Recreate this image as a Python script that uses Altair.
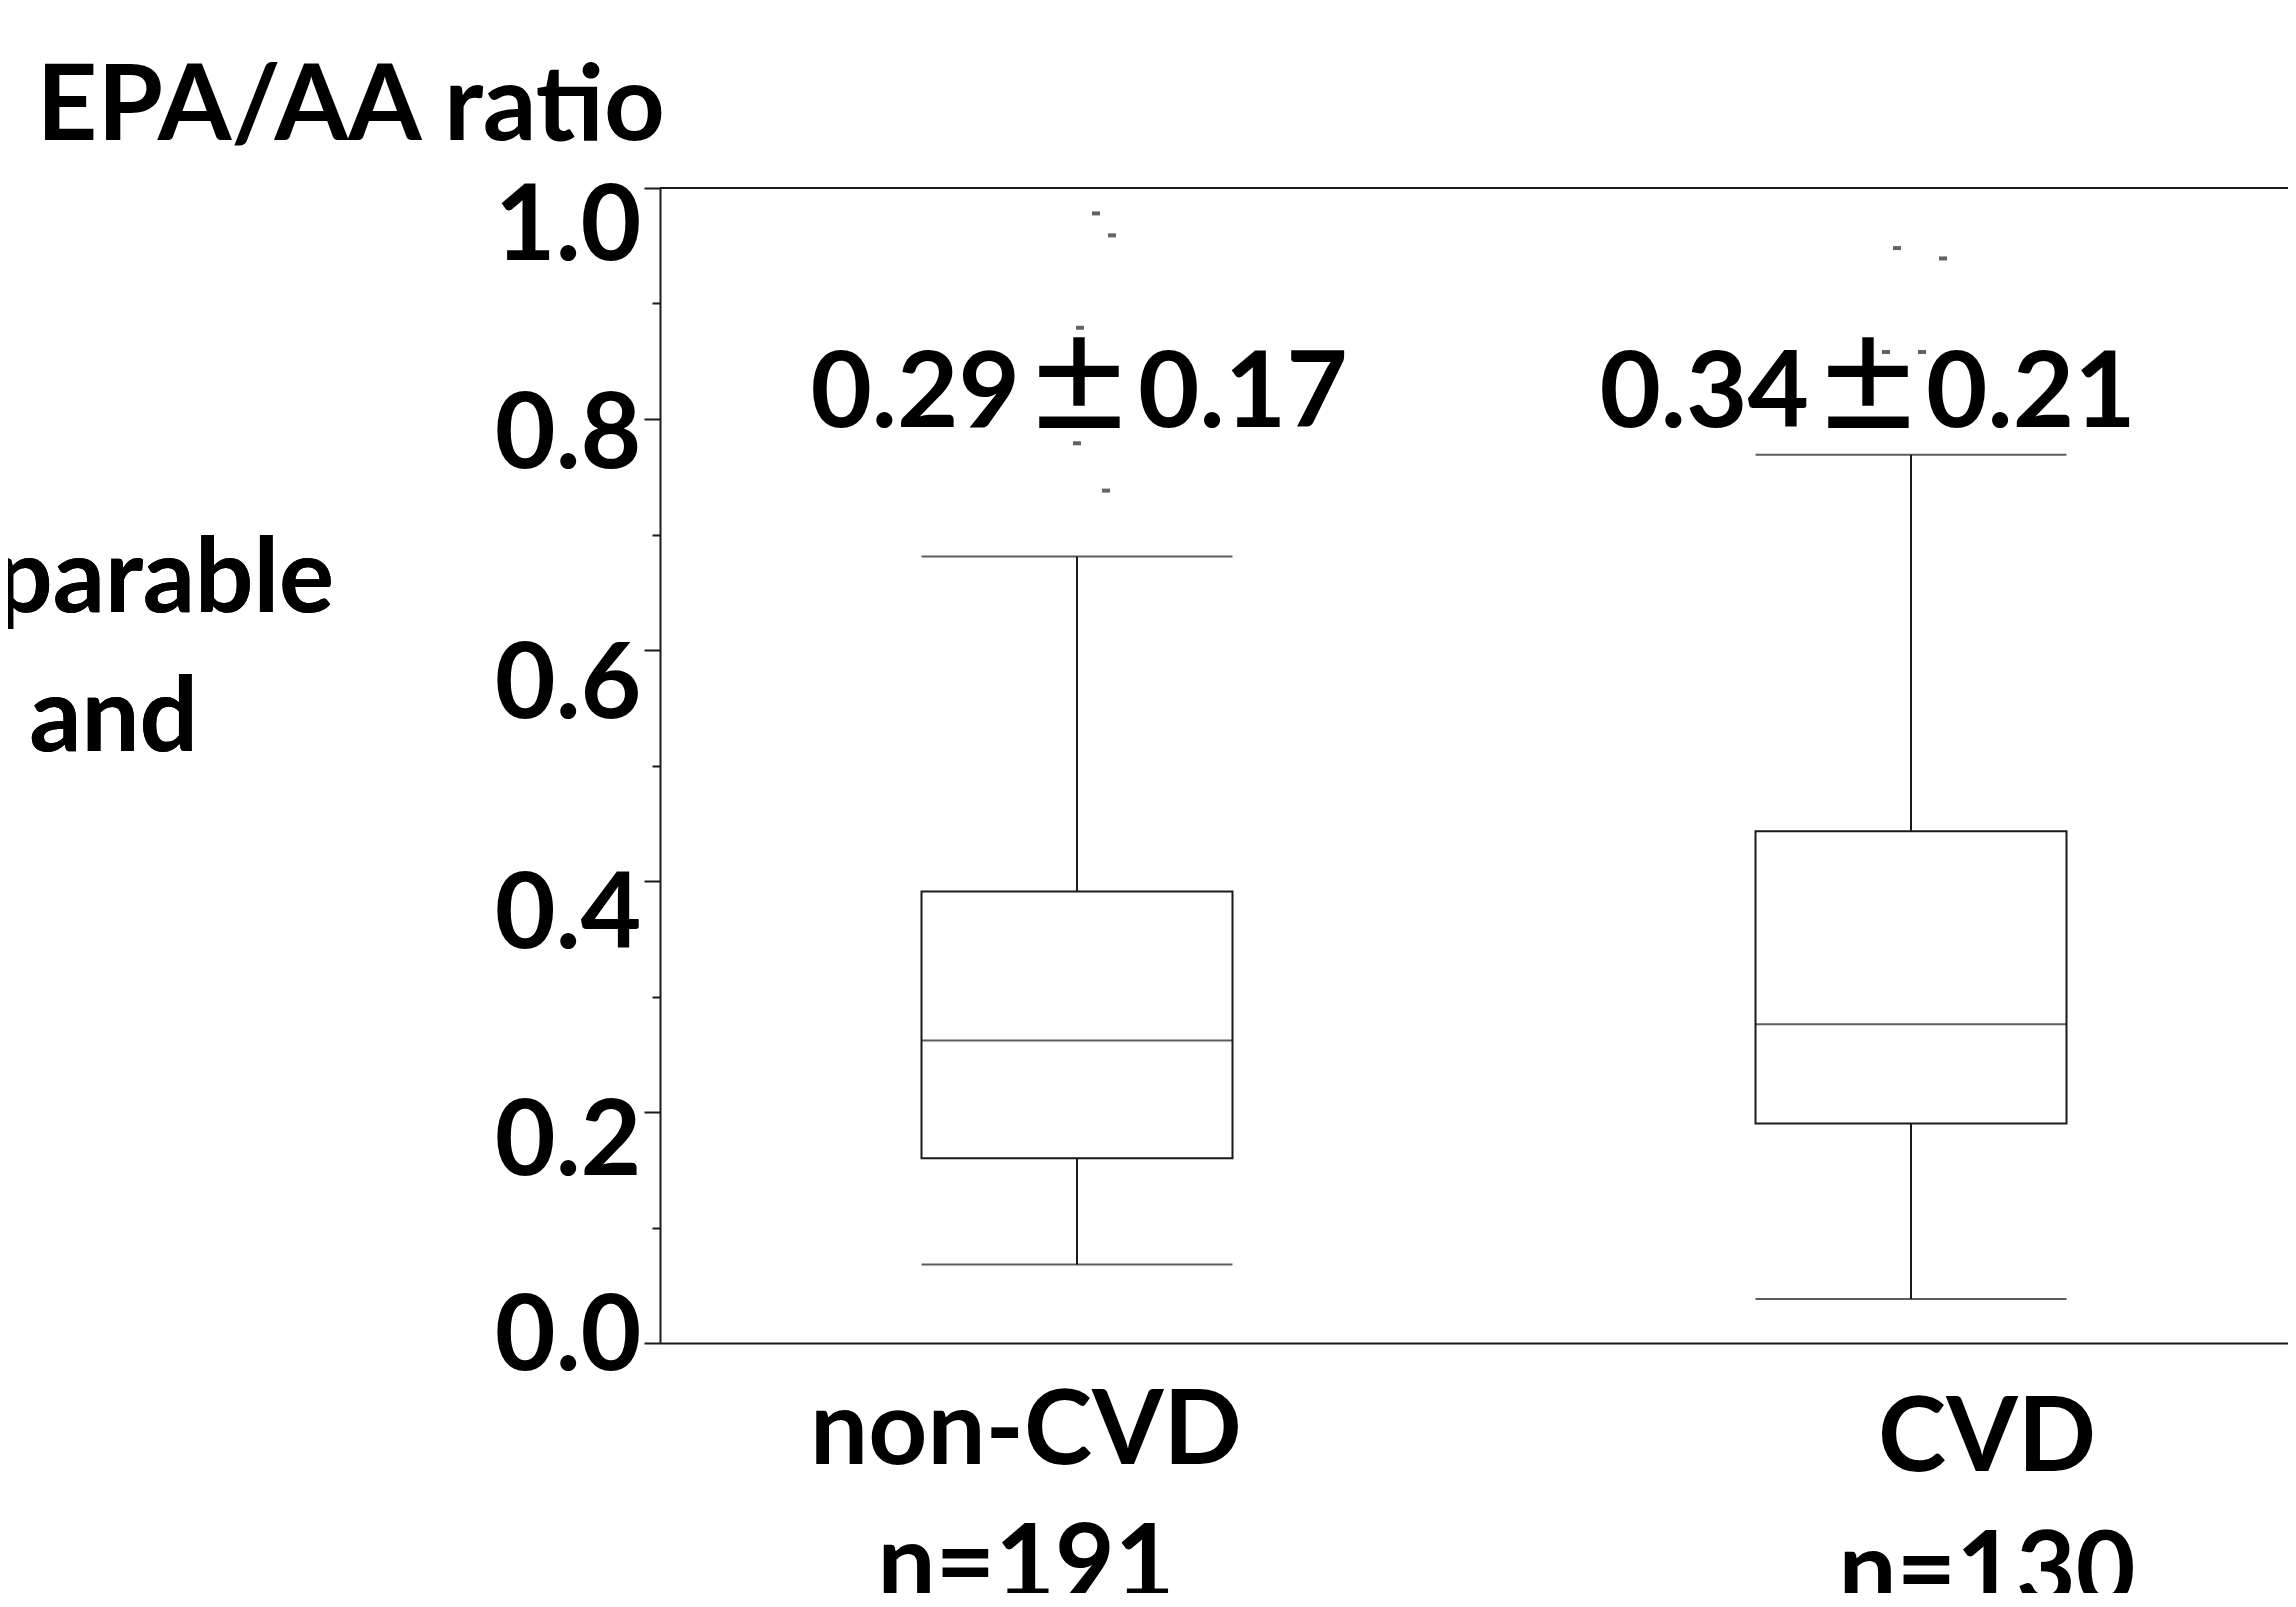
import altair as alt
import pandas as pd

# ---- data ----
categories = ["non-CVD", "CVD"]
whisker_low = [0.068, 0.038]
q1 = [0.160, 0.190]
median = [0.262, 0.276]
q3 = [0.391, 0.443]
whisker_high = [0.681, 0.769]

outlier_group = ["non-CVD"] * 5 + ["CVD"] * 4
outlier_value = [0.978, 0.959, 0.879, 0.779, 0.738, 0.948, 0.939, 0.858, 0.858]
outlier_jitter = [19, 35, 3, 0, 29, -14, 32, -25, 11]

mean_text = ["0.29", "0.34"]
sd_text = ["0.17", "0.21"]
group_names = ["non-CVD", "CVD"]
group_n = ["n=191", "n=130"]
y_ticks = [0.0, 0.1, 0.2, 0.3, 0.4, 0.5, 0.6, 0.7, 0.8, 0.9, 1.0]

FONT = "Lato"
INK = "#1a1a1a"
W, H = 1628, 1155

box_df = pd.DataFrame({
    "group": categories, "lo": whisker_low, "q1": q1, "med": median,
    "q3": q3, "hi": whisker_high,
})
out_df = pd.DataFrame({"group": outlier_group, "v": outlier_value, "jitter": outlier_jitter})
lab_df = pd.DataFrame({"group": categories, "mean": mean_text, "sd": sd_text, "pm": ["±", "±"],
                       "lab": [f"{a}\n{b}" for a, b in zip(group_names, group_n)]})

xscale = alt.Scale(domain=categories, range=[0, 1668], paddingInner=0, paddingOuter=0)
x_enc = alt.X("group:N", scale=xscale, sort=categories,
              axis=alt.Axis(labels=False, ticks=False, title=None, domainColor=INK,
                            domainWidth=2, grid=False))
yscale = alt.Scale(domain=[0, 1], nice=False, zero=True)

major = "round(datum.value*10) % 2 == 0"
y_axis = alt.Axis(
    values=y_ticks, grid=False,
    domainColor=INK, domainWidth=2, tickColor=INK, tickWidth=2,
    tickSize={"condition": {"test": major, "value": 16}, "value": 8},
    labelExpr="round(datum.value*10) % 2 == 0 ? format(datum.value, '.1f') : ''",
    labelFont=FONT, labelFontWeight="bold", labelFontSize=105, labelColor="black",
    labelBaseline="alphabetic", labelPadding=3,
    labelOffset={"condition": [
        {"test": "round(datum.value*10) == 10", "value": 71},
        {"test": "round(datum.value*10) == 8", "value": 48},
        {"test": "round(datum.value*10) == 6", "value": 67},
        {"test": "round(datum.value*10) == 4", "value": 66},
        {"test": "round(datum.value*10) == 2", "value": 62},
        {"test": "round(datum.value*10) == 0", "value": 26},
    ], "value": 0},
    labelOverlap=False, labelFlush=False, labelBound=False,
    title="EPA/AA ratio", titleAngle=0, titleAlign="left", titleBaseline="alphabetic",
    titleX=-624, titleY=-49, titleFont=FONT, titleFontWeight="bold",
    titleFontSize=106, titleColor="black",
)

base = alt.Chart(box_df)

whisk = base.mark_rule(color=INK, strokeWidth=2).encode(
    x=x_enc, y=alt.Y("lo:Q", scale=yscale, axis=y_axis), y2="hi:Q")
box = base.mark_bar(width=311, fill="white", stroke=INK, strokeWidth=2).encode(
    x=x_enc, y="q3:Q", y2="q1:Q")
med = base.mark_tick(size=311, thickness=2, color=INK).encode(x=x_enc, y="med:Q")
cap_lo = base.mark_tick(size=311, thickness=2, color=INK).encode(x=x_enc, y="lo:Q")
cap_hi = base.mark_tick(size=311, thickness=2, color=INK).encode(x=x_enc, y="hi:Q")

outl = alt.Chart(out_df).mark_tick(size=8, thickness=4, color="#222222").encode(
    x=x_enc, y="v:Q",
    xOffset=alt.XOffset("jitter:Q", scale=alt.Scale(domain=[-417, 417], range=[0, 834])))

top_line = alt.Chart(box_df).mark_rule(color=INK, strokeWidth=2).encode(
    y=alt.datum(1.0), x=alt.value(0), x2=alt.value(1700))


def txt(group, field, dx, y, align="center", lh=None, font=FONT, size=106):
    kw = dict(font=font, fontWeight="bold", fontSize=size, color="black",
              align=align, baseline="alphabetic", dx=dx)
    if lh:
        kw.update(lineBreak="\n", lineHeight=lh)
    return alt.Chart(lab_df).transform_filter(alt.datum.group == group).mark_text(**kw).encode(
        x=x_enc, y=alt.value(y), text=f"{field}:N")


CJK = "Noto Sans CJK JP"
ann = [
    txt("non-CVD", "mean", -57, 239, align="right"),
    txt("non-CVD", "pm", 2, 241, font=CJK, size=112),
    txt("non-CVD", "sd", 61, 239, align="left"),
    txt("CVD", "mean", -102, 239, align="right"),
    txt("CVD", "pm", -43, 241, font=CJK, size=112),
    txt("CVD", "sd", 15, 239, align="left"),
]
lab1 = txt("non-CVD", "lab", -51, 1276, lh=134, size=103)
lab2 = txt("CVD", "lab", 76, 1283, lh=134, size=103)

side1 = alt.Chart(box_df).mark_text(font=FONT, fontWeight="bold", fontSize=103, color="black",
                                    align="right", baseline="alphabetic").encode(
    x=alt.value(-326), y=alt.value(424), text=alt.value("comparable"))
side2 = alt.Chart(box_df).mark_text(font=FONT, fontWeight="bold", fontSize=103, color="black",
                                    align="right", baseline="alphabetic").encode(
    x=alt.value(-462), y=alt.value(563), text=alt.value("and"))

chart = alt.layer(whisk, box, med, cap_lo, cap_hi, outl, top_line,
                  *ann, lab1, lab2, side1, side2).properties(
    width=W, height=H,
    autosize=alt.AutoSizeParams(type="none"),
    padding={"left": 652, "top": 180, "right": 0, "bottom": 250},
    background="white",
).configure_view(stroke=None)

chart.save("out.html", embed_options={"renderer": "svg", "actions": False})
